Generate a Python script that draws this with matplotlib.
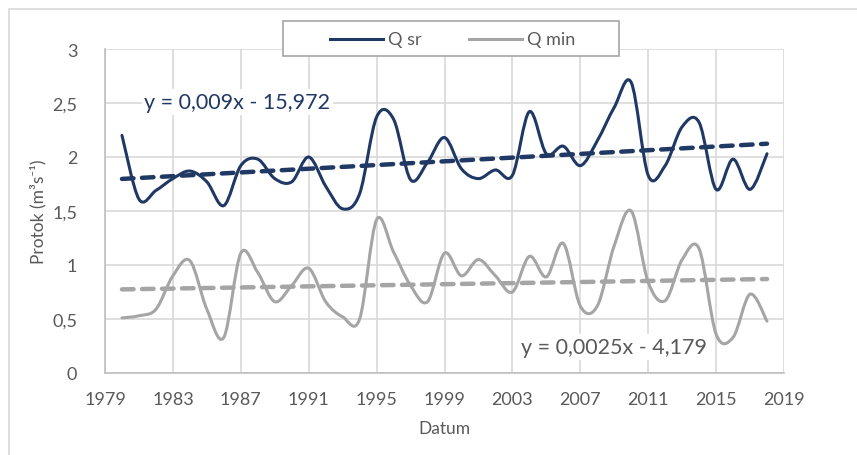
import numpy as np
import matplotlib
matplotlib.use("Agg")
import matplotlib.pyplot as plt
from matplotlib.path import Path
from matplotlib.patches import PathPatch, Rectangle
from matplotlib.lines import Line2D

years = list(range(1980, 2019))
q_sr = [2.20, 1.61, 1.69, 1.80, 1.87, 1.77, 1.55, 1.92, 1.98, 1.80,
        1.77, 2.00, 1.73, 1.52, 1.66, 2.37, 2.35, 1.79, 1.95, 2.18,
        1.89, 1.80, 1.88, 1.83, 2.42, 2.03, 2.10, 1.92, 2.15, 2.46,
        2.69, 1.83, 1.92, 2.28, 2.32, 1.70, 1.98, 1.70, 2.03]
q_min = [0.51, 0.53, 0.59, 0.90, 1.04, 0.59, 0.33, 1.11, 0.93, 0.66,
         0.81, 0.97, 0.66, 0.52, 0.50, 1.42, 1.12, 0.81, 0.66, 1.11,
         0.90, 1.05, 0.90, 0.75, 1.08, 0.89, 1.20, 0.62, 0.62, 1.18,
         1.50, 0.84, 0.67, 1.05, 1.15, 0.36, 0.33, 0.73, 0.48]
series_names = ["Q sr", "Q min"]
trend_labels = ["y = 0,009x - 15,972", "y = 0,0025x - 4,179"]
x_ticks = list(range(1979, 2020, 4))
y_ticks = [0, 0.5, 1, 1.5, 2, 2.5, 3]
y_tick_labels = ["0", "0,5", "1", "1,5", "2", "2,5", "3"]

NAVY = "#1F3864"
GRAY = "#A5A5A5"
TXT = "#595959"
GRID = "#D9D9D9"

plt.rcParams['font.family'] = ['Lato', 'DejaVu Sans']

W, H = 857, 456
fig = plt.figure(figsize=(W / 100, H / 100), dpi=100)
ax = fig.add_axes([105 / W, 1 - 374 / H, (784 - 105) / W, (374 - 50) / H])


def fx(px):
    return px / W


def fy(py):
    return 1 - py / H


# chart area border
fig.patches.append(Rectangle((fx(9), -0.1), 1.2, fy(10) + 0.1, transform=fig.transFigure,
                             fill=False, edgecolor="#D9D9D9", linewidth=1.2, zorder=0))


def smooth_path(xs, ys):
    xs = np.asarray(xs, float)
    ys = np.asarray(ys, float)
    n = len(xs)
    verts = [(xs[0], ys[0])]
    codes = [Path.MOVETO]
    for i in range(n - 1):
        i0 = max(i - 1, 0)
        i3 = min(i + 2, n - 1)
        c1 = (xs[i] + (xs[i + 1] - xs[i0]) / 6, ys[i] + (ys[i + 1] - ys[i0]) / 6)
        c2 = (xs[i + 1] - (xs[i3] - xs[i]) / 6, ys[i + 1] - (ys[i3] - ys[i]) / 6)
        verts += [c1, c2, (xs[i + 1], ys[i + 1])]
        codes += [Path.CURVE4] * 3
    return Path(verts, codes)


for vals, col in [(q_sr, NAVY), (q_min, GRAY)]:
    ax.add_patch(PathPatch(smooth_path(years, vals), facecolor="none", edgecolor=col,
                           linewidth=2.2, capstyle="round", joinstyle="round", zorder=3))
    p = np.polyfit(years, vals, 1)
    xs = np.array([years[0], years[-1]], float)
    ax.plot(xs, np.polyval(p, xs), color=col, linewidth=3.2, dashes=(2.6, 1.9),
            dash_capstyle="round", zorder=2.5)

ax.set_xlim(1979, 2019)
ax.set_ylim(0, 3)
ax.set_xticks(x_ticks)
ax.set_yticks(y_ticks)
ax.set_yticklabels(y_tick_labels)
ax.grid(True, color=GRID, linewidth=1.2)
ax.set_axisbelow(True)
for s in ["top", "right"]:
    ax.spines[s].set_visible(False)
for s in ["left", "bottom"]:
    ax.spines[s].set_color("#BFBFBF")
    ax.spines[s].set_linewidth(1.2)
ax.tick_params(length=0, labelsize=13, labelcolor=TXT)
ax.tick_params(axis="y", pad=20)
ax.tick_params(axis="x", pad=13)

ax.set_ylabel("Protok (m³s⁻¹)", fontsize=12.5, color=TXT, labelpad=4)
ax.set_xlabel("Datum", fontsize=12.5, color=TXT, labelpad=9)

bbox = dict(facecolor="white", edgecolor="none", pad=2)
ax.text(1986.8, 2.51, trend_labels[0], fontsize=15.5, color=NAVY, ha="center", va="center",
        bbox=bbox, zorder=4)
ax.text(2009.0, 0.24, trend_labels[1], fontsize=15.5, color=TXT, ha="center", va="center",
        bbox=bbox, zorder=4)

# legend box drawn in figure pixels
fig.patches.append(Rectangle((fx(283), fy(57)), fx(619) - fx(283), fy(22) - fy(57),
                             transform=fig.transFigure, facecolor="white",
                             edgecolor="#A6A6A6", linewidth=1.2, zorder=5))
for (x0, x1, tx), name, col in zip([(330, 383, 388), (469, 522, 527)], series_names, [NAVY, GRAY]):
    fig.add_artist(Line2D([fx(x0), fx(x1)], [fy(39.5), fy(39.5)], transform=fig.transFigure,
                          color=col, linewidth=2.2, zorder=6))
    fig.text(fx(tx), fy(39.5), name, fontsize=13, color=TXT, ha="left", va="center", zorder=6)

fig.savefig("out.png", dpi=100, facecolor="white")
